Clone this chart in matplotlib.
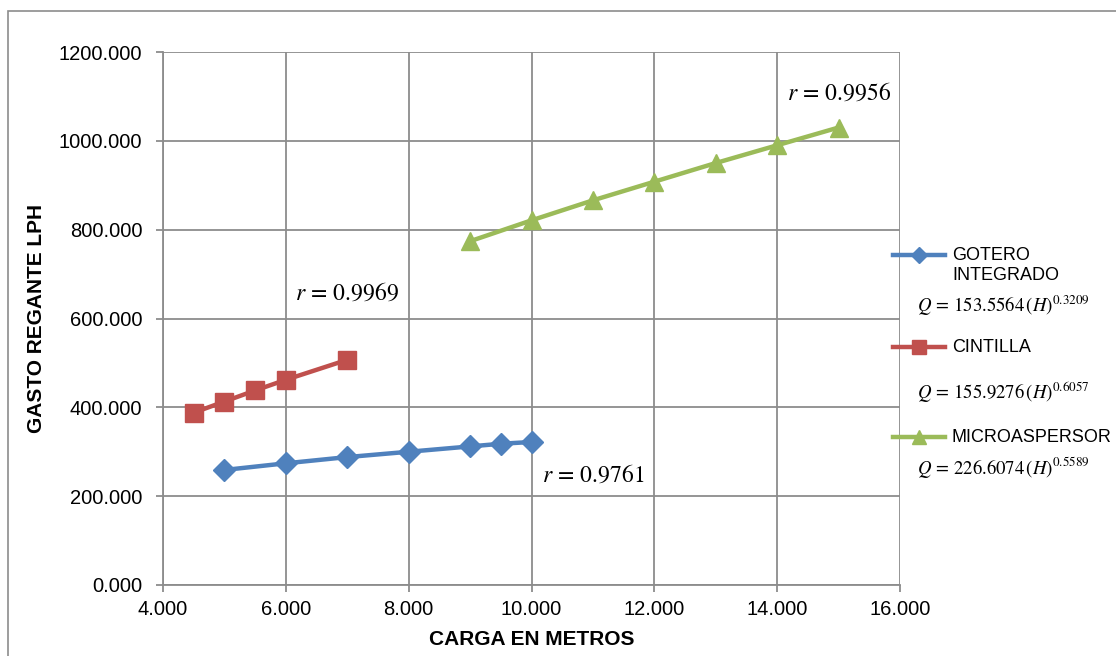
import numpy as np
import matplotlib.pyplot as plt
from matplotlib.lines import Line2D
from matplotlib.patches import Rectangle

plt.rcParams['font.family'] = ['Liberation Sans', 'DejaVu Sans']
plt.rcParams['mathtext.fontset'] = 'stix'

# Datos
gotero_h = [5, 6, 7, 8, 9, 9.5, 10]
gotero_q = [259, 274, 288, 300, 312, 318, 322]
cintilla_h = [4.5, 5, 5.5, 6, 7]
cintilla_q = [388, 413, 438, 462, 507]
micro_h = [9, 10, 11, 12, 13, 14, 15]
micro_q = [774, 821, 866, 908, 950, 990, 1030]

series_names = ['GOTERO\nINTEGRADO', 'CINTILLA', 'MICROASPERSOR']
r_values = ['0.9761', '0.9969', '0.9956']
equations = [r'$Q\,=\,153.5564\,(H)^{0.3209}$',
             r'$Q\,=\,155.9276\,(H)^{0.6057}$',
             r'$Q\,=\,226.6074\,(H)^{0.5589}$']

colors = ['#4F81BD', '#C0504D', '#9BBB59']
markers = ['D', 's', '^']
msizes = [11, 13, 13]
grid_c = '#8c8c8c'

W, H = 1116, 656
fig = plt.figure(figsize=(W / 100, H / 100), dpi=100)

def fx(x):
    return x / W

def fy(y):
    return 1 - y / H

ax = fig.add_axes([fx(163), fy(585), fx(900) - fx(163), fy(52) - fy(585)])

ax.plot(gotero_h, gotero_q, color=colors[0], marker=markers[0], ms=msizes[0], lw=3.2, zorder=3)
ax.plot(cintilla_h, cintilla_q, color=colors[1], marker=markers[1], ms=msizes[1], lw=3.2, zorder=3)
ax.plot(micro_h, micro_q, color=colors[2], marker=markers[2], ms=msizes[2], lw=3.2, zorder=3)

ax.set_xlim(4, 16)
ax.set_ylim(0, 1200)
ax.set_xticks(np.arange(4, 17, 2))
ax.set_yticks(np.arange(0, 1201, 200))
ax.set_xticklabels(['%.3f' % v for v in np.arange(4, 17, 2)])
ax.set_yticklabels(['%.3f' % v for v in np.arange(0, 1201, 200)])
ax.grid(True, color=grid_c, lw=1.3)
ax.set_axisbelow(True)
for s in ['top', 'right']:
    ax.spines[s].set_visible(False)
for s in ['left', 'bottom']:
    ax.spines[s].set_color(grid_c)
    ax.spines[s].set_linewidth(1.3)
ax.tick_params(axis='both', colors=grid_c, labelcolor='black', labelsize=14.5,
               length=5, width=1.3)
ax.tick_params(axis='y', pad=10)
ax.tick_params(axis='x', pad=6)

ax.set_xlabel('CARGA EN METROS', fontsize=15, fontweight='bold', labelpad=8)
ax.set_ylabel('GASTO REGANTE LPH', fontsize=15, fontweight='bold', labelpad=9)

# coeficientes de correlacion
r_pos = [(11.0, 248), (7.0, 657), (15.0, 1108)]
for val, (x, y) in zip(r_values, r_pos):
    ax.text(x, y, '$r\\,=\\,$' + val, fontsize=17, ha='center', va='center',
            family='STIXGeneral')

# leyenda manual
leg_y = [255, 347, 437]
for i in range(3):
    fig.add_artist(Line2D([fx(893), fx(945)], [fy(leg_y[i]), fy(leg_y[i])],
                          color=colors[i], lw=3.2, transform=fig.transFigure))
    fig.add_artist(Line2D([fx(919)], [fy(leg_y[i])], color=colors[i], marker=markers[i],
                          ms=[8, 10, 10][i], transform=fig.transFigure))
fig.text(fx(952), fy(247), series_names[0], fontsize=13, va='top', linespacing=1.25)
fig.text(fx(952), fy(leg_y[1]), series_names[1], fontsize=13, va='center')
fig.text(fx(952), fy(leg_y[2]), series_names[2], fontsize=13, va='center')

eq_y = [306, 392, 467]
for txt, y in zip(equations, eq_y):
    fig.text(fx(917), fy(y), txt, fontsize=13.5, va='center')

# borde exterior
fig.add_artist(Rectangle((fx(7.5), -0.05), 1.2, fy(10.5) + 0.05, fill=False,
                         edgecolor=grid_c, lw=1.2, transform=fig.transFigure))

fig.savefig('out.png', dpi=100)
